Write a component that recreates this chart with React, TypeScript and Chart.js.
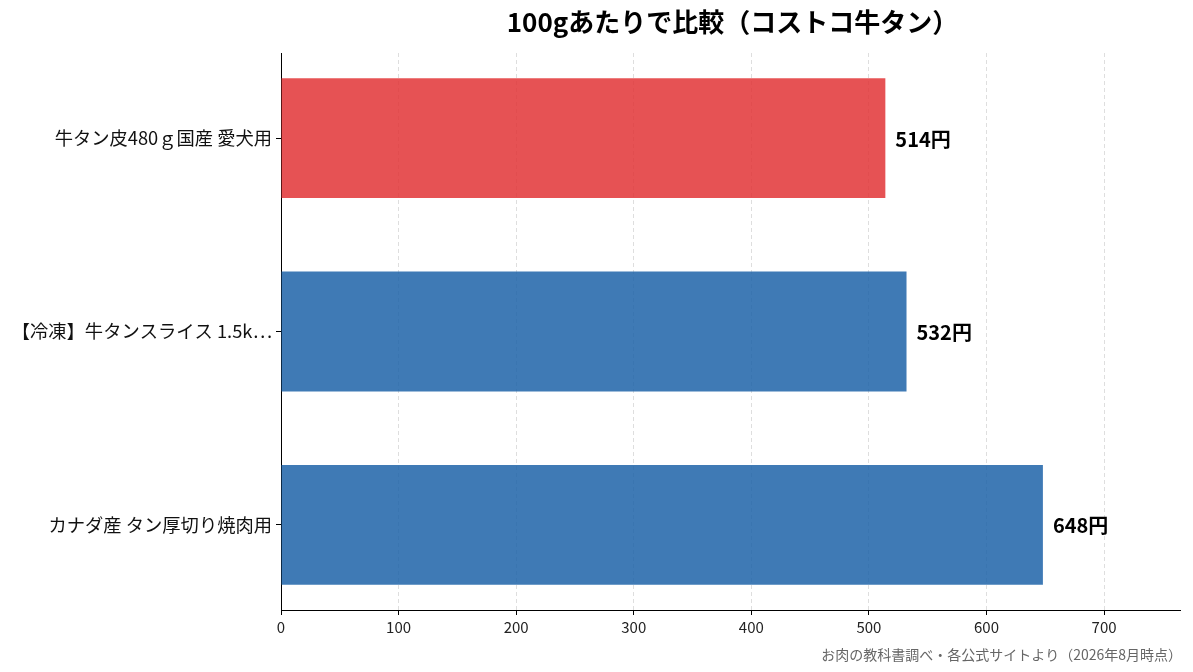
import React, { useEffect, useRef } from "react";
import { Chart, registerables } from "chart.js";

Chart.register(...registerables);

const categories: string[] = [
  "牛タン皮480ｇ国産 愛犬用",
  "【冷凍】牛タンスライス 1.5k…",
  "カナダ産 タン厚切り焼肉用",
];
const pricePer100g: number[] = [514, 532, 648];
const barColors: string[] = [
  "rgba(226,52,54,0.85)",
  "rgba(29,99,168,0.85)",
  "rgba(29,99,168,0.85)",
];
const xTickValues: number[] = [0, 100, 200, 300, 400, 500, 600, 700];
const titleText = "100gあたりで比較（コストコ牛タン）";
const footerText = "お肉の教科書調べ・各公式サイトより（2026年8月時点）";
const valueSuffix = "円";

const FONT = "'Noto Sans CJK JP', 'Noto Sans', sans-serif";

const overlayPlugin = {
  id: "overlay",
  afterDatasetsDraw(chart: any) {
    const { ctx, chartArea } = chart;
    const meta = chart.getDatasetMeta(0);
    ctx.save();
    ctx.fillStyle = "#000";
    ctx.font = `bold 20px ${FONT}`;
    ctx.textAlign = "left";
    ctx.textBaseline = "middle";
    meta.data.forEach((el: any, i: number) => {
      ctx.fillText(`${pricePer100g[i]}${valueSuffix}`, el.x + 10, el.y + 1);
    });
    // title
    ctx.font = `bold 26px ${FONT}`;
    ctx.textAlign = "center";
    ctx.textBaseline = "middle";
    ctx.fillText(titleText, (chartArea.left + chartArea.right) / 2 + 2, 14);
    // footer
    ctx.font = `14px ${FONT}`;
    ctx.fillStyle = "#666";
    ctx.textAlign = "right";
    ctx.fillText(footerText, chart.width - 3, chart.height - 9);
    ctx.restore();
  },
};

export default function App() {
  const ref = useRef<HTMLCanvasElement | null>(null);
  useEffect(() => {
    if (!ref.current) return;
    const chart = new Chart(ref.current, {
      type: "bar",
      data: {
        datasets: [
          {
            data: pricePer100g.map((v, i) => ({ x: v, y: i })),
            backgroundColor: barColors,
            borderWidth: 0,
            barPercentage: 0.62,
            categoryPercentage: 1,
          },
        ],
      },
      options: {
        indexAxis: "y",
        animation: false,
        responsive: true,
        maintainAspectRatio: false,
        layout: { padding: { top: 45, right: 5, left: 0, bottom: 0 } },
        plugins: {
          legend: { display: false },
          title: { display: false },
          tooltip: { enabled: false },
        },
        scales: {
          x: {
            type: "linear",
            min: 0,
            max: 764.6,
            afterBuildTicks: (s: any) => {
              s.ticks = xTickValues.map((v) => ({ value: v }));
            },
            afterFit: (s: any) => {
              s.height = 54;
            },
            grid: {
              color: "rgba(200,200,200,0.6)",
              drawTicks: true,
              tickLength: 5,
              tickColor: "#000",
              tickBorderDash: [],
              tickWidth: 1,
            },
            border: { display: true, color: "#000", width: 1, dash: [4, 3] },
            ticks: {
              color: "#222",
              font: { family: FONT, size: 15 },
              padding: 3,
            },
          },
          y: {
            type: "linear",
            reverse: true,
            offset: false,
            min: -0.44,
            max: 2.44,
            afterBuildTicks: (s: any) => {
              s.ticks = categories.map((_, i) => ({ value: i }));
            },
            afterFit: (s: any) => {
              s.width = 273;
            },
            grid: {
              offset: false,
              drawOnChartArea: false,
              drawTicks: true,
              tickLength: 5,
              tickColor: "#000",
              color: "#000",
            },
            border: { display: true, color: "#000", width: 1 },
            ticks: {
              color: "#111",
              font: { family: FONT, size: 18.3 },
              padding: 4,
              callback: (v: any) => categories[Number(v)] ?? "",
            },
          },
        },
      },
      plugins: [overlayPlugin],
    });
    return () => chart.destroy();
  }, []);
  return (
    <div style={{ position: "relative", width: "100%", height: 656 }}>
      <canvas ref={ref} />
    </div>
  );
}
